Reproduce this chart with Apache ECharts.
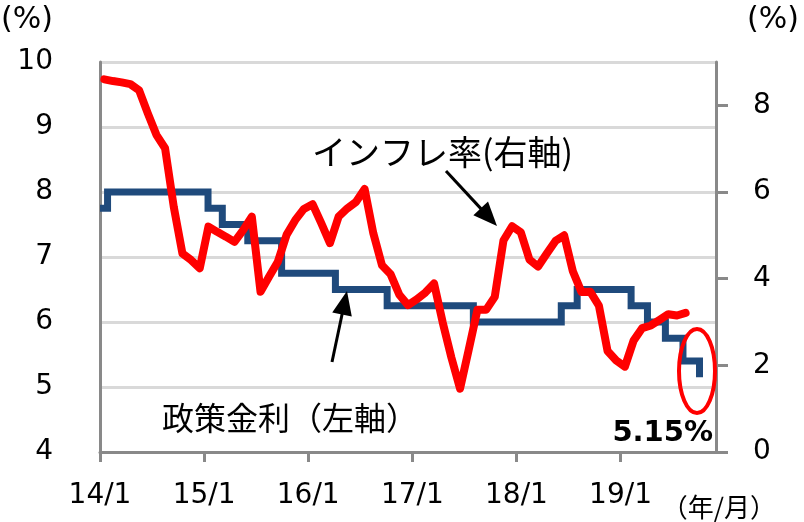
<!DOCTYPE html>
<html><head><meta charset="utf-8">
<script src="https://cdn.jsdelivr.net/npm/echarts@6/dist/echarts.min.js"></script>
<style>html,body{margin:0;padding:0;background:#fff}#c{width:804px;height:522px}</style>
</head><body><div id="c"></div>
<script>
// Policy rate (left axis): change dates and values
const rateDates = ['2014-01-01','2014-01-28','2015-01-15','2015-03-04','2015-06-02','2015-09-29','2016-04-05','2016-10-04','2017-08-02','2018-06-06','2018-08-01','2019-02-07','2019-04-04','2019-06-06','2019-08-07','2019-10-04'];
const rateValues = [7.75,8.00,7.75,7.50,7.25,6.75,6.50,6.25,6.00,6.25,6.50,6.25,6.00,5.75,5.40,5.15];

// Inflation (right axis), monthly from 2014-01
const cpiStart = '2014-01';
const cpiValues = [
  8.60,8.56,8.53,8.49,8.35,7.82,7.32,7.01,5.66,4.58,4.43,4.24,
  5.20,5.08,4.97,4.85,5.12,5.43,3.70,4.05,4.39,5.01,5.35,5.61,
  5.72,5.28,4.82,5.43,5.62,5.77,6.07,5.05,4.31,4.10,3.63,3.39,
  3.52,3.68,3.89,2.99,2.18,1.46,2.36,3.28,3.28,3.58,4.88,5.21,
  5.07,4.44,4.28,4.58,4.87,5.00,4.17,3.69,3.70,3.38,2.33,2.11,
  1.97,2.57,2.86,2.92,3.05,3.18,3.15,3.21
];

const xTickValues = [0,12,24,36,48,60];
const xTickLabels = ['14/1','15/1','16/1','17/1','18/1','19/1'];
const rightTickValues = [0,2,4,6,8];

function monthPos(s){
  const p = s.split('-').map(Number);
  const y = p[0], m = p[1], d = p[2] || 1;
  const dim = new Date(y, m, 0).getDate();
  return (y-2014)*12 + (m-1) + (d-1)/dim;
}
const startPos = monthPos(cpiStart + '-01');
const rateData = rateDates.map((d,i)=>[monthPos(d), rateValues[i]]);
const cpiData = cpiValues.map((v,i)=>[startPos + i + 0.5, v]);

const GRAY = '#898989';
const LABEL_FONT = 'DejaVu Sans';
const JP = '"Noto Sans CJK JP"';

function arrow(x1,y1,x2,y2,headLen,headHalf){
  const dx=x2-x1, dy=y2-y1, L=Math.sqrt(dx*dx+dy*dy), ux=dx/L, uy=dy/L;
  const bx=x2-ux*headLen, by=y2-uy*headLen, px=-uy*headHalf, py=ux*headHalf;
  return [
    {type:'line', shape:{x1:x1,y1:y1,x2:bx+ux*2,y2:by+uy*2}, style:{stroke:'#000',lineWidth:3}, z:100},
    {type:'polygon', shape:{points:[[x2,y2],[bx+px,by+py],[bx-px,by-py]]}, style:{fill:'#000'}, z:100}
  ];
}

const chart = echarts.init(document.getElementById('c'));
chart.setOption({
  animation:false,
  backgroundColor:'#fff',
  grid:{left:100,right:88,top:62,bottom:70},
  xAxis:{
    type:'value', min:0, max:71, interval:12,
    axisLine:{onZero:false, lineStyle:{color:GRAY,width:3}},
    axisTick:{show:true, length:10, customValues:xTickValues, lineStyle:{color:GRAY,width:3}},
    axisLabel:{customValues:xTickValues, formatter:v=>xTickLabels[xTickValues.indexOf(v)], fontSize:28, fontFamily:LABEL_FONT, color:'#000', margin:30},
    splitLine:{show:false}
  },
  yAxis:[
    {type:'value', min:4, max:10, interval:1, position:'left',
     axisLine:{show:true, onZero:false, lineStyle:{color:GRAY,width:3}},
     axisTick:{show:false},
     axisLabel:{fontSize:28, fontFamily:LABEL_FONT, color:'#000', margin:47, padding:[0,0,8,0]},
     splitLine:{show:true, lineStyle:{color:'#d9d9d9',width:3}}},
    {type:'value', min:0, max:9, interval:2, position:'right',
     axisLine:{show:true, onZero:false, lineStyle:{color:GRAY,width:3}},
     axisTick:{show:true, length:12, customValues:rightTickValues, lineStyle:{color:GRAY,width:3}},
     axisLabel:{customValues:rightTickValues, fontSize:28, fontFamily:LABEL_FONT, color:'#000', margin:37, padding:[0,0,8,0]},
     splitLine:{show:false}}
  ],
  series:[
    {type:'line', name:'政策金利', yAxisIndex:0, step:'end', data:rateData, showSymbol:false, symbol:'none',
     lineStyle:{color:'#1f4a7c', width:7, join:'miter', cap:'butt'}, z:2},
    {type:'line', name:'インフレ率', yAxisIndex:1, data:cpiData, showSymbol:false, symbol:'none',
     lineStyle:{color:'#ff0000', width:8, join:'round', cap:'round'}, z:3}
  ],
  graphic:[
    {type:'text', x:1, y:20, style:{text:'(%)', font:'30px '+LABEL_FONT, fill:'#000', align:'left', verticalAlign:'middle'}},
    {type:'text', x:747, y:20, style:{text:'(%)', font:'30px '+LABEL_FONT, fill:'#000', align:'left', verticalAlign:'middle'}},
    {type:'text', x:312, y:152, style:{text:'インフレ率(右軸)', font:'34px '+JP, fill:'#000', align:'left', verticalAlign:'middle'}, z:100},
    {type:'text', x:162, y:418, style:{text:'政策金利（左軸）', font:'32px '+JP, fill:'#000', align:'left', verticalAlign:'middle'}, z:100},
    {type:'text', x:713, y:433, style:{text:'5.15%', font:'bold 29px '+LABEL_FONT, fill:'#000', align:'right', verticalAlign:'middle'}, z:100},
    {type:'text', x:776, y:507, style:{text:'（年/月）', font:'26px '+JP, fill:'#000', align:'right', verticalAlign:'middle'}, z:100},
    {type:'ellipse', shape:{cx:697, cy:371, rx:18, ry:42}, style:{fill:'none', stroke:'#ff0000', lineWidth:4}, z:100}
  ].concat(arrow(446,171,497,226,24,10)).concat(arrow(332,362,347,291,24,10))
});
</script></body></html>
